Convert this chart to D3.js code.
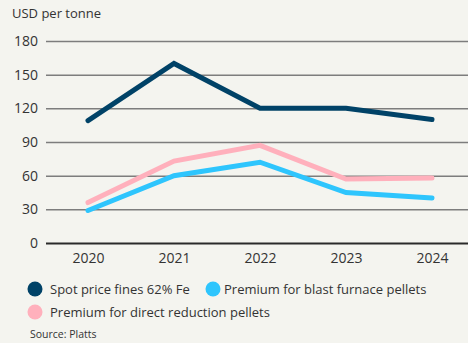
<!DOCTYPE html>
<html>
<head>
<meta charset="utf-8">
<script src="https://cdn.jsdelivr.net/npm/d3@7"></script>
<style>
  html, body { margin: 0; padding: 0; background: #f4f4ef; }
  svg { display: block; font-family: "Open Sans", "DejaVu Sans", sans-serif; }
</style>
</head>
<body>
<svg id="chart" width="468" height="343"></svg>
<script>
// Iron ore prices, USD per tonne
const years = ["2020", "2021", "2022", "2023", "2024"];
const spotFines = [109, 160, 120, 120, 110];
const blastFurnace = [29, 60, 72, 45, 40];
const directReduction = [36, 73, 87, 57, 58];
const yTicks = [0, 30, 60, 90, 120, 150, 180];

const series = [
  { name: "Spot price fines 62% Fe", values: spotFines, color: "#004267" },
  { name: "Premium for direct reduction pellets", values: directReduction, color: "#ffb0bc" },
  { name: "Premium for blast furnace pellets", values: blastFurnace, color: "#2ec5fd" }
];

const svg = d3.select("#chart");
const W = 468;

const x = d3.scalePoint().domain(years).range([88, 432]);
const y = d3.scaleLinear().domain([0, 180]).range([243, 41]);

// unit label
svg.append("text")
  .attr("x", 12).attr("y", 18)
  .attr("font-size", 13).attr("fill", "#333")
  .text("USD per tonne");

// horizontal grid with y labels
const yAxis = svg.append("g")
  .attr("transform", "translate(46,0)")
  .call(d3.axisLeft(y).tickValues(yTicks).tickSize(0).tickPadding(8))
  .call(g => g.select(".domain").remove());
yAxis.selectAll("text").attr("font-size", 14).attr("fill", "#333")
  .attr("font-family", "'Open Sans', sans-serif");
yAxis.selectAll(".tick").append("line")
  .attr("x1", 0).attr("x2", W - 46)
  .attr("stroke", d => d === 0 ? "#2a2a2a" : "#7d7d7d")
  .attr("stroke-width", d => d === 0 ? 2.2 : 1.5);

// x axis labels
const xAxis = svg.append("g")
  .attr("transform", "translate(0,244)")
  .call(d3.axisBottom(x).tickSize(0).tickPadding(9))
  .call(g => g.select(".domain").remove());
xAxis.selectAll("text").attr("font-size", 14).attr("fill", "#333")
  .attr("font-family", "'Open Sans', sans-serif");

// lines
const line = d3.line()
  .x((d, i) => x(years[i]))
  .y(d => y(d));

svg.append("g").selectAll("path")
  .data(series)
  .join("path")
  .attr("d", d => line(d.values))
  .attr("fill", "none")
  .attr("stroke", d => d.color)
  .attr("stroke-width", 5)
  .attr("stroke-linecap", "round")
  .attr("stroke-linejoin", "miter");

// legend
const legendItems = [
  { s: series[0], cx: 35, cy: 289, tx: 50 },
  { s: series[2], cx: 213, cy: 289, tx: 224 },
  { s: series[1], cx: 35, cy: 312, tx: 50 }
];
const lg = svg.append("g").selectAll("g").data(legendItems).join("g");
lg.append("circle")
  .attr("cx", d => d.cx).attr("cy", d => d.cy).attr("r", 7.5)
  .attr("fill", d => d.s.color);
lg.append("text")
  .attr("x", d => d.tx).attr("y", d => d.cy + 5)
  .attr("font-size", 13).attr("fill", "#333")
  .text(d => d.s.name);

// source
svg.append("text")
  .attr("x", 30).attr("y", 338)
  .attr("font-size", 10.5).attr("fill", "#333")
  .text("Source: Platts");
</script>
</body>
</html>
